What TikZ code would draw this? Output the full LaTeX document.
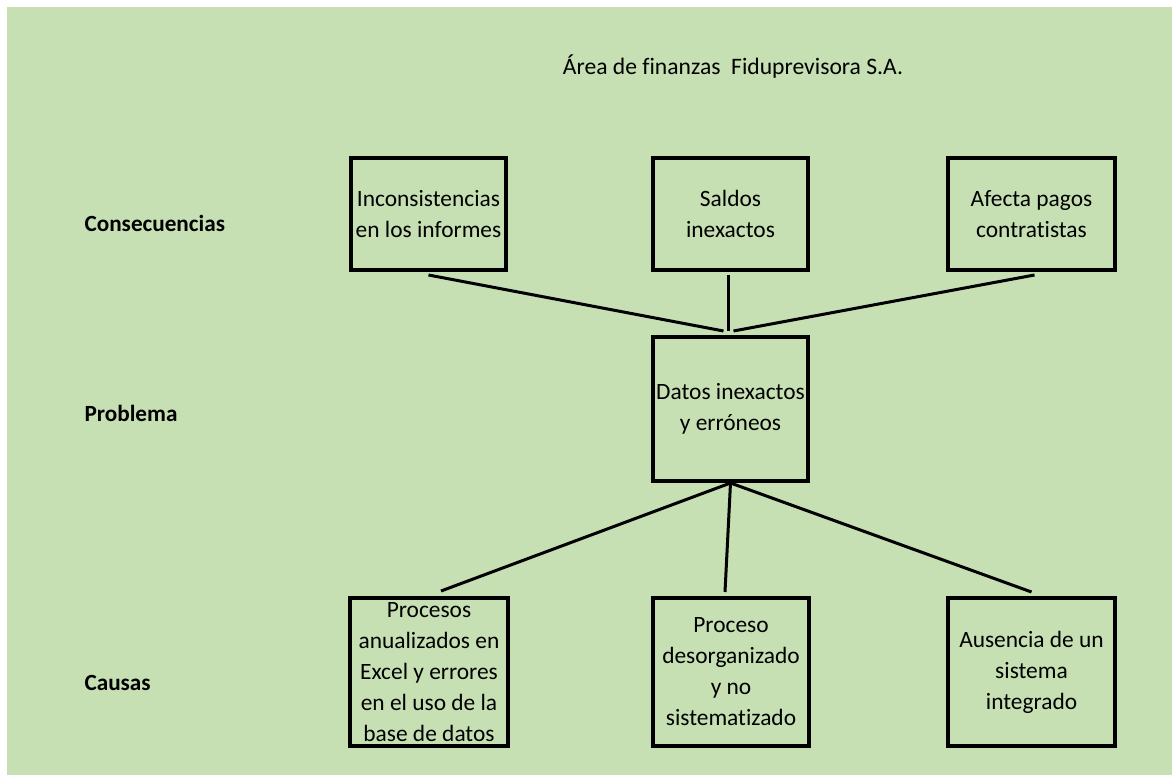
\documentclass[tikz,border=0pt]{standalone}
\usepackage{fontspec}
\setmainfont{Carlito}[Ligatures=NoCommon]
\usepackage{xcolor}
\usetikzlibrary{positioning}
\definecolor{bggreen}{HTML}{C6E0B4}

\begin{document}
\begin{tikzpicture}[x=1pt,y=-1pt,
    box/.style={draw,line width=4pt,align=center,inner sep=0pt,
      font=\fontsize{23.4}{31}\selectfont},
    lbl/.style={anchor=base west,font=\fontsize{23.2}{31}\selectfont\bfseries},
    link/.style={line width=3pt}]
  \useasboundingbox (0,0) rectangle (1172,775);
  \fill[bggreen] (7,7) rectangle (1172,775);

  \node (tit) [anchor=base,font=\fontsize{23.6}{31}\selectfont] at (733,75)
    {Área de finanzas~~Fiduprevisora S.A.};

  \node (lcon) [lbl] at (81,232) {Consecuencias};
  \node (lprob) [lbl] at (81,421) {Problema};
  \node (lcau) [lbl] at (81,690) {Causas};

  \node (con1) [box,minimum width=155pt,minimum height=112pt] at (428.5,214)
    {Inconsistencias\\en los informes};
  \node (con2) [box,minimum width=155pt,minimum height=112pt] at (730.5,214)
    {Saldos\\inexactos};
  \node (con3) [box,minimum width=167pt,minimum height=112pt] at (1031.5,214)
    {Afecta pagos\\contratistas};

  \node (prob) [box,minimum width=155pt,minimum height=144pt] at (730.5,409)
    {Datos inexactos\\y erróneos};

  \node (cau1) [box,minimum width=158pt,minimum height=148pt] at (429,672)
    {Procesos\\anualizados en\\Excel y errores\\en el uso de la\\base de datos};
  \node (cau2) [box,minimum width=156pt,minimum height=148pt] at (731,672)
    {Proceso\\desorganizado\\y no\\sistematizado};
  \node (cau3) [box,minimum width=167pt,minimum height=148pt] at (1031.5,672)
    {Ausencia de un\\sistema\\integrado};

  \draw[link] ([yshift=-3pt]con1.south) -- ([xshift=-7pt,yshift=4pt]prob.north);
  \draw[link] ([xshift=-2pt,yshift=-3pt]con2.south) -- ([xshift=-2pt,yshift=4pt]prob.north);
  \draw[link] ([xshift=3pt,yshift=-3pt]con3.south) -- ([xshift=3pt,yshift=4pt]prob.north);

  \draw[link] (prob.south) -- ([xshift=12pt,yshift=5pt]cau1.north);
  \draw[link] (prob.south) -- ([xshift=-6pt,yshift=4pt]cau2.north);
  \draw[link] (prob.south) -- ([yshift=4pt]cau3.north);
\end{tikzpicture}
\end{document}
